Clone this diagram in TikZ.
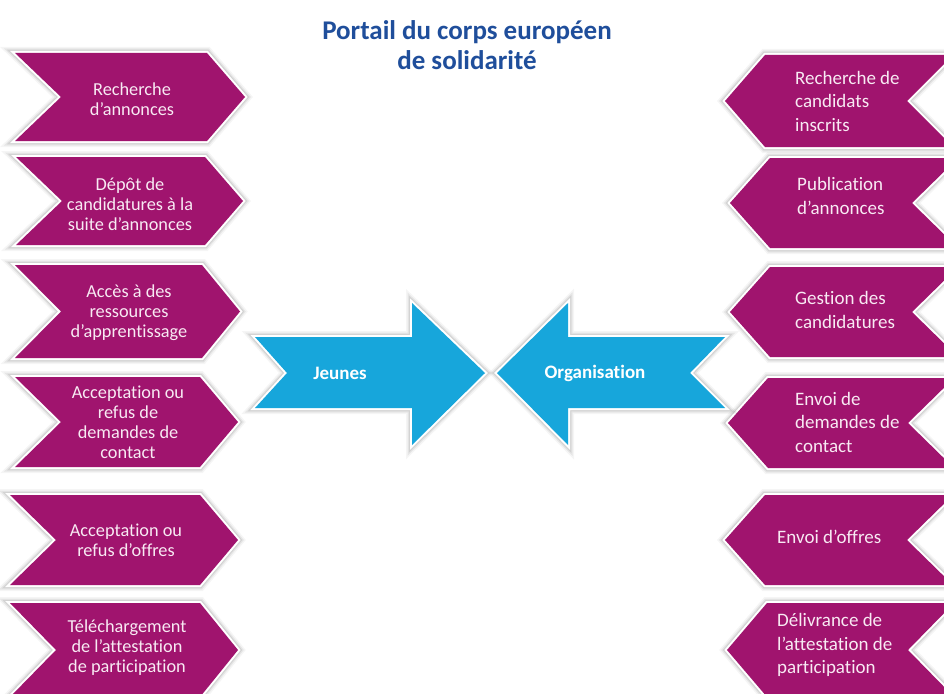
\documentclass[tikz,border=0pt]{standalone}
\usepackage{fontspec}
\setmainfont[Ligatures={NoCommon}]{Carlito}
\definecolor{chevpurple}{HTML}{A0146E}
\definecolor{arrowblue}{HTML}{17A6DB}
\definecolor{titleblue}{HTML}{1F4E9B}
\definecolor{chevtext}{HTML}{F8EAF3}
\tikzset{
  shapebase/.style={line join=round,
    preaction={draw=black, draw opacity=0.04, line width=12pt},
    preaction={draw=black, draw opacity=0.06, line width=9pt},
    preaction={draw=black, draw opacity=0.08, line width=6.5pt},
    preaction={draw=white, line width=4pt}},
  chevshape/.style={shapebase, fill=chevpurple},
  bigarrow/.style={shapebase, fill=arrowblue},
  ltext/.style={inner sep=0pt, align=center, text=chevtext, font=\fontsize{18.3}{20}\selectfont},
  rtext/.style={inner sep=0pt, align=left, anchor=west, text=chevtext, font=\fontsize{19}{23.5}\selectfont},
  atext/.style={inner sep=0pt, text=white, font=\bfseries\fontsize{19}{23}\selectfont},
  titletext/.style={inner sep=0pt, align=center, text=titleblue, font=\bfseries\fontsize{27}{30}\selectfont}
}
% left chevron: top y, bottom y, left x, tip x
\newcommand\LChevShape[4]{%
  \path[chevshape] (#3,#1) -- ({#4-38},#1) -- (#4,{(#1+#2)/2}) -- ({#4-38},#2) -- (#3,#2) -- ({#3+46},{(#1+#2)/2}) -- cycle;}
% right chevron: top y, bottom y, tip x, notch x
\newcommand\RChevShape[4]{%
  \path[chevshape] (#3,{(#1+#2)/2}) -- ({#3+40},#1) -- ({#4+46},#1) -- (#4,{(#1+#2)/2}) -- ({#4+46},#2) -- ({#3+40},#2) -- cycle;}
\begin{document}
\begin{tikzpicture}[x=1pt,y=-1pt]
\useasboundingbox[fill=white] (0,0) rectangle (944,693);
\begin{scope}
\clip (0,0) rectangle (944,693);
% left chevrons
\LChevShape{53}{141}{15}{245}
\LChevShape{157}{245}{16}{243}
\LChevShape{265}{358}{15}{240}
\LChevShape{377}{467}{15}{238}
\LChevShape{495}{585}{10}{238}
\LChevShape{603}{697}{10}{238}
% right chevrons
\RChevShape{55}{147}{725}{907}
\RChevShape{158}{248}{730}{912}
\RChevShape{267}{357}{730}{912}
\RChevShape{378}{468}{728}{908}
\RChevShape{495}{585}{725}{907}
\RChevShape{603}{697}{727}{908}
% big arrows
\path[bigarrow] (255,337) -- (412,337) -- (412,303) -- (485,373) -- (412,445) -- (412,408) -- (255,408) -- (287,373) -- cycle;
\path[bigarrow] (497,373) -- (568,303) -- (568,337) -- (725,337) -- (690,373) -- (725,408) -- (568,408) -- (568,445) -- cycle;
\end{scope}
% title
\node[titletext] (title) at (467,45) {Portail du corps européen\\de solidarité};
% arrow labels
\node[atext] (jeunes) at (340,373) {Jeunes};
\node[atext] (orga) at (595,373) {Organisation};
% left labels
\node[ltext] (l1) at (132,99) {Recherche\\d’annonces};
\node[ltext] (l2) at (130,204) {Dépôt de\\candidatures à la\\suite d’annonces};
\node[ltext] (l3) at (129,313) {Accès à des\\ressources\\d’apprentissage};
\node[ltext] (l4) at (128,422) {Acceptation ou\\refus de\\demandes de\\contact};
\node[ltext] (l5) at (126,540) {Acceptation ou\\refus d’offres};
\node[ltext] (l6) at (127,648) {Téléchargement\\de l’attestation\\de participation};
% right labels
\node[rtext] (r1) at (795,101) {Recherche de\\candidats\\inscrits};
\node[rtext] (r2) at (797,196) {Publication\\d’annonces};
\node[rtext] (r3) at (795,310) {Gestion des\\candidatures};
\node[rtext] (r4) at (795,422) {Envoi de\\demandes de\\contact};
\node[rtext] (r5) at (777,537) {Envoi d’offres};
\node[rtext] (r6) at (777,645) {Délivrance de\\l’attestation de\\participation};
\end{tikzpicture}
\end{document}
